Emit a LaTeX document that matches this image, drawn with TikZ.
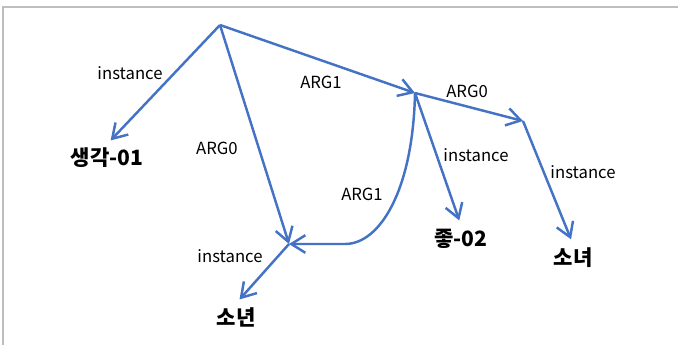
\documentclass[tikz,border=0pt]{standalone}
\usepackage{fontspec}
\setmainfont{Noto Sans CJK KR}
\usetikzlibrary{arrows.meta,positioning}
\definecolor{amrblue}{HTML}{4472C4}
\definecolor{framegray}{HTML}{BEBEBE}
\tikzset{
	rel/.style={line width=1.4pt, color=amrblue, line join=round, shorten >=3pt,
		-{Straight Barb[length=8pt,width=10pt,line width=1.4pt]}},
	rolelab/.style={font=\fontsize{9.5}{11}\selectfont, inner sep=1pt},
	concept/.style={font=\fontsize{12}{14}\selectfont\bfseries, inner sep=2pt},
}

\begin{document}
\begin{tikzpicture}[x=0.02cm, y=-0.02cm]
		%%%%% START %%%%%
		\useasboundingbox (0, 0) rectangle (678, 345);
		\draw[color=framegray, line width=1.2pt] (678, 7) -- (3, 7) -- (3, 345);
		
		% variables
		\coordinate (root) at (220, 25);
		\coordinate (like) at (415, 93);
		\coordinate (girl) at (523, 121);
		\coordinate (boy) at (289, 244);
		\coordinate (bend) at (345, 244);
		
		% concepts
		\node[concept] (think) at (107, 158) {생각-01};
		\node[concept] (boyname) at (236, 317) {소년};
		\node[concept] (likename) at (461, 239) {좋-02};
		\node[concept] (girlname) at (573, 258) {소녀};
		
		% relations
		\draw[rel] (root) -- (think.north);
		\draw[rel, shorten >=0pt] (root) -- (boy);
		\draw[rel, shorten >=0pt] (root) -- (like);
		\draw[rel, shorten >=0pt] (like) -- (girl);
		\draw[rel] (like) -- (likename.north);
		\draw[rel] (girl) -- (girlname.north);
		\draw[rel, shorten >=0pt] (like) .. controls (413, 190) and (380, 244) .. (bend) -- (boy);
		\draw[rel] (boy) -- (boyname.north);
		
		% role labels
		\node[rolelab] (l1) at (130, 73) {instance};
		\node[rolelab] (l2) at (217, 148) {ARG0};
		\node[rolelab] (l3) at (321, 82) {ARG1};
		\node[rolelab] (l4) at (467, 91) {ARG0};
		\node[rolelab] (l5) at (476, 155) {instance};
		\node[rolelab] (l6) at (583, 172) {instance};
		\node[rolelab] (l7) at (362, 194) {ARG1};
		\node[rolelab] (l8) at (230, 256) {instance};
		%%%%% END %%%%%
\end{tikzpicture}
\end{document}
